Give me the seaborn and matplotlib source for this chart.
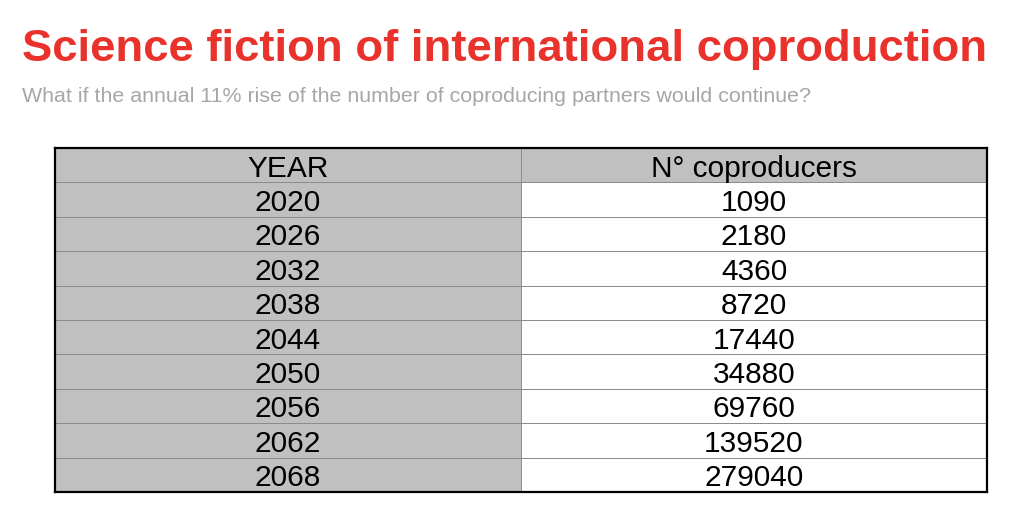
import numpy as np
import pandas as pd
import matplotlib
matplotlib.use("Agg")
import matplotlib.pyplot as plt
from matplotlib.colors import ListedColormap
import seaborn as sns

title = "Science fiction of international coproduction"
subtitle = "What if the annual 11% rise of the number of coproducing partners would continue?"
col_headers = ["YEAR", "N° coproducers"]
years = [2020, 2026, 2032, 2038, 2044, 2050, 2056, 2062, 2068]
coproducers = [1090, 2180, 4360, 8720, 17440, 34880, 69760, 139520, 279040]

sns.set_theme(style="white")
plt.rcParams['font.family'] = ['Liberation Sans', 'DejaVu Sans']

# cell colour codes: 1 = grey, 0 = white
codes = np.zeros((len(years) + 1, 2))
codes[0, :] = 1
codes[:, 0] = 1
labels = np.array([col_headers] + [[str(y), str(c)] for y, c in zip(years, coproducers)], dtype=object)

fig = plt.figure(figsize=(10.24, 5.21), dpi=100)
ax = fig.add_axes([55/1024, 1 - 492/521, (987-55)/1024, (492-148)/521])
sns.heatmap(codes, ax=ax, cmap=ListedColormap(['#ffffff', '#c0c0c0']), vmin=0, vmax=1,
            cbar=False, linewidths=0.55, linecolor='#8c8c8c',
            annot=labels, fmt='', annot_kws={'color': 'black', 'fontsize': 21.5})
for t in ax.texts:
    x, y = t.get_position()
    t.set_y(y + 0.1)
ax.set_xticks([]); ax.set_yticks([])
for s in ax.spines.values():
    s.set_visible(True)
    s.set_color('black')
    s.set_linewidth(1.6)

fig.text(22/1024, 1 - 50/521, title, color='#e8322b', fontsize=32.75, fontweight='bold',
         va='center', ha='left')
fig.text(22/1024, 1 - 96/521, subtitle, color='#a6a6a6', fontsize=15.4, va='center', ha='left')

fig.savefig("out.png", dpi=100)
